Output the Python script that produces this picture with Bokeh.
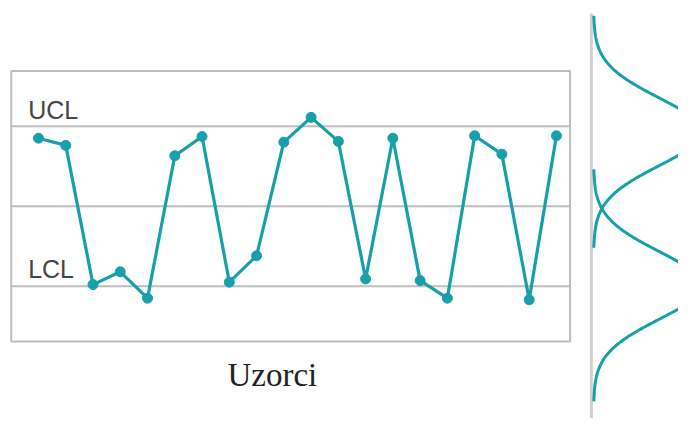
import numpy as np
from bokeh.plotting import figure
from bokeh.models import Range1d, Label
from bokeh.embed import file_html
from bokeh.resources import INLINE

# --- data ---
samples = list(range(1, 21))
values = [0.85, 0.76, -0.98, -0.82, -1.15, 0.63, 0.87, -0.95, -0.62, 0.80,
          1.11, 0.81, -0.91, 0.85, -0.93, -1.15, 0.88, 0.65, -1.17, 0.88]
ucl = 1.0
center = 0.0
lcl = -1.0
limit_labels = ["UCL", "LCL"]
x_label = "Uzorci"

# distributions drawn at the right (centre, spread)
dist_centers = [0.93, -0.99]
dist_sigma = 0.425
dist_amp = 3.96

TEAL = "#17a0a9"
GRAY = "#bdbdbd"

p = figure(width=678, height=418, output_backend="svg", toolbar_location=None,
           x_range=Range1d(-0.394, 24.478), y_range=Range1d(-2.654, 2.571),
           min_border=0, min_border_left=0, min_border_right=0,
           min_border_top=0, min_border_bottom=0)
p.xaxis.visible = False
p.yaxis.visible = False
p.grid.visible = False
p.outline_line_color = None
p.background_fill_color = "white"
p.border_fill_color = "white"

box_left, box_right = 0.0, 20.5
box_bottom, box_top = -1.69, 1.69

# chart box
p.quad(left=[box_left], right=[box_right], bottom=[box_bottom], top=[box_top],
       fill_color=None, line_color=GRAY, line_width=2)
# control lines
for lvl in [ucl, center, lcl]:
    p.segment(x0=[box_left], x1=[box_right], y0=[lvl], y1=[lvl],
              line_color=GRAY, line_width=2)

# series
p.line(samples, values, line_color=TEAL, line_width=3.2)
p.scatter(samples, values, size=10, fill_color=TEAL, line_color=TEAL)

# labels
p.add_layout(Label(x=0.62, y=ucl + 0.205, text=limit_labels[0],
                   text_font="Liberation Sans", text_font_size="25px",
                   text_color="#464646", text_baseline="alphabetic"))
p.add_layout(Label(x=0.62, y=lcl + 0.215, text=limit_labels[1],
                   text_font="Liberation Sans", text_font_size="25px",
                   text_color="#464646", text_baseline="alphabetic"))
p.add_layout(Label(x=7.93, y=-2.115, text=x_label,
                   text_font="Liberation Serif", text_font_size="33px",
                   text_color="#222222", text_baseline="alphabetic"))

# right-hand distribution panel
axis_x = 21.28
base_x = 21.36
p.segment(x0=[axis_x], x1=[axis_x], y0=[2.41], y1=[-3.0],
          line_color="#cfcfcf", line_width=3)
for c in dist_centers:
    yy = np.linspace(c - 1.45, c + 1.45, 200)
    xx = base_x + dist_amp * np.exp(-((yy - c) ** 2) / (2 * dist_sigma ** 2))
    p.line(xx, yy, line_color=TEAL, line_width=3)

open("out.html", "w").write(file_html(p, INLINE))
